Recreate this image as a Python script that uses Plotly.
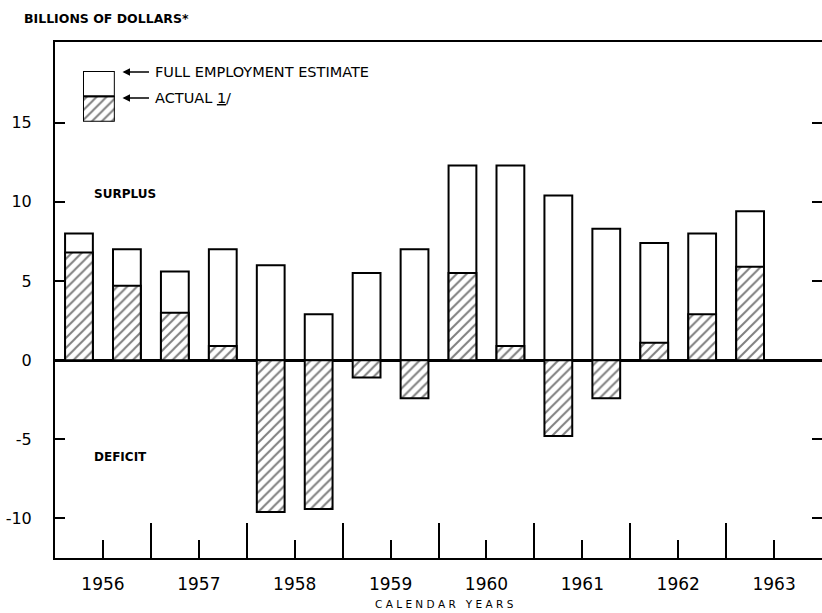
import plotly.graph_objects as go

# Federal budget surplus/deficit, half-year periods, 1956-I .. 1963-I
years = [1956, 1956, 1957, 1957, 1958, 1958, 1959, 1959,
         1960, 1960, 1961, 1961, 1962, 1962, 1963]
halves = [1, 2, 1, 2, 1, 2, 1, 2, 1, 2, 1, 2, 1, 2, 1]
full_employment = [8.0, 7.0, 5.6, 7.0, 6.0, 2.9, 5.5, 7.0,
                   12.3, 12.3, 10.4, 8.3, 7.4, 8.0, 9.4]
actual = [6.8, 4.7, 3.0, 0.9, -9.6, -9.4, -1.1, -2.4,
          5.5, 0.9, -4.8, -2.4, 1.1, 2.9, 5.9]
year_labels = ["1956", "1957", "1958", "1959", "1960", "1961", "1962", "1963"]
y_ticks = [-10, -5, 0, 5, 10, 15]

FONT = "DejaVu Sans"

# bars sit in the middle of each half year
x_pos = [y + (0.25 if h == 1 else 0.75) for y, h in zip(years, halves)]
label_pos = [int(y) + 0.5 for y in year_labels]

hatch = dict(shape='/', fgcolor='black', bgcolor='white', size=7, solidity=0.28)

fig = go.Figure()

fig.add_trace(go.Bar(
    x=x_pos, y=full_employment, width=0.29,
    marker=dict(color='white', line=dict(color='black', width=2)),
    showlegend=False, hoverinfo='skip'
))
fig.add_trace(go.Bar(
    x=x_pos, y=actual, width=0.29,
    marker=dict(color='white', line=dict(color='black', width=2), pattern=hatch),
    showlegend=False, hoverinfo='skip'
))

# key box in the upper left corner
fig.add_trace(go.Bar(
    x=[0.5], y=[1], base=[0], width=1, xaxis='x2', yaxis='y2',
    marker=dict(color='white', line=dict(color='black', width=2), pattern=hatch),
    showlegend=False, hoverinfo='skip'
))
fig.add_trace(go.Bar(
    x=[0.5], y=[1], base=[1], width=1, xaxis='x2', yaxis='y2',
    marker=dict(color='white', line=dict(color='black', width=2)),
    showlegend=False, hoverinfo='skip'
))

fig.update_layout(
    width=822, height=613,
    margin=dict(l=55, r=0, t=42, b=55, autoexpand=False),
    paper_bgcolor='white', plot_bgcolor='white',
    barmode='overlay',
    font=dict(family=FONT, color='black'),
    xaxis=dict(
        range=[1956, 1964], showgrid=False, zeroline=False, automargin=False,
        showline=True, linecolor='black', linewidth=2, mirror=True,
        tickmode='array', tickvals=label_pos, ticktext=year_labels,
        ticks='inside', ticklen=18, tickwidth=2, tickcolor='black',
        ticklabelstandoff=10, tickfont=dict(size=17, family=FONT),
        minor=dict(tickmode='array', tickvals=list(range(1957, 1964)),
                   ticks='inside', ticklen=35, tickwidth=2, tickcolor='black',
                   showgrid=False)
    ),
    yaxis=dict(
        range=[-12.5, 20.1], showgrid=False, automargin=False,
        zeroline=True, zerolinecolor='black', zerolinewidth=2.5,
        showline=True, linecolor='black', linewidth=2, mirror='ticks',
        tickmode='array', tickvals=y_ticks, ticktext=[str(v) for v in y_ticks],
        ticks='inside', ticklen=10, tickwidth=2, tickcolor='black',
        ticklabelstandoff=18, tickfont=dict(size=16, family=FONT)
    ),
    xaxis2=dict(domain=[0.0365, 0.078], range=[0, 1], anchor='y2',
                visible=False, fixedrange=True),
    yaxis2=dict(domain=[0.8455, 0.944], range=[0, 2], anchor='x2',
                visible=False, fixedrange=True),
)

ann = [
    dict(text='<b>BILLIONS OF DOLLARS*</b>', x=-0.043, y=1.0465, xanchor='left',
         font=dict(size=12.5, family=FONT)),
    dict(text='<b>SURPLUS</b>', x=0.048, y=0.705, xanchor='left',
         font=dict(size=12, family=FONT)),
    dict(text='<b>DEFICIT</b>', x=0.048, y=0.196, xanchor='left',
         font=dict(size=12, family=FONT)),
    dict(text='C A L E N D A R   Y E A R S', x=0.508, y=-0.089,
         font=dict(size=10.5, family=FONT)),
    dict(text='FULL EMPLOYMENT ESTIMATE', x=0.128, y=0.9419, xanchor='left',
         font=dict(size=14.5, family=FONT)),
    dict(text='ACTUAL <u>1</u>/', x=0.128, y=0.8915, xanchor='left',
         font=dict(size=14.5, family=FONT)),
]
for a in ann:
    fig.add_annotation(xref='paper', yref='paper', showarrow=False,
                       yanchor='middle', **a)

for ya in [0.9419, 0.8915]:
    fig.add_annotation(xref='paper', yref='paper', x=0.088, y=ya,
                       ax=28, ay=0, text='', showarrow=True,
                       arrowhead=2, arrowsize=1, arrowwidth=1.5,
                       arrowcolor='black')

# the page body has a default 8px margin; drop it so the figure fills the window
fig.write_html("out.html",
               config={'displayModeBar': False},
               post_script="document.body.style.margin='0';"
                           "document.body.style.overflow='hidden';")
